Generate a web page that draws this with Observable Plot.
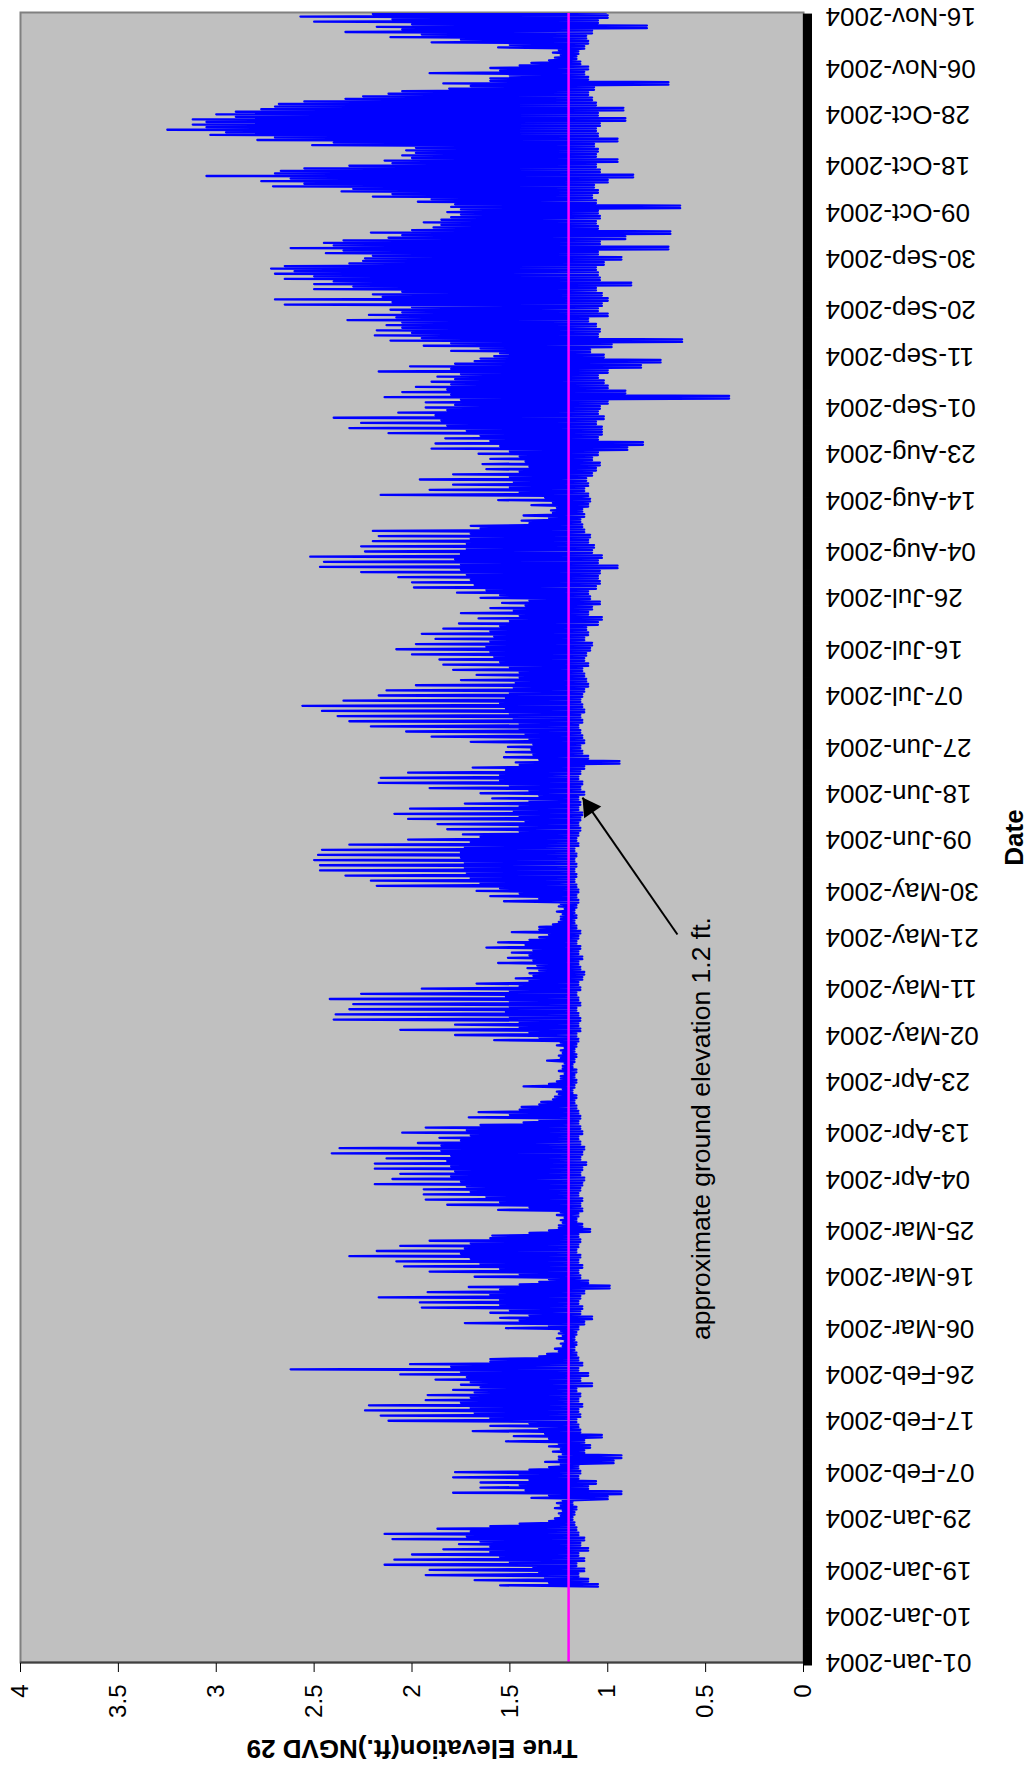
<!DOCTYPE html>
<html>
<head>
<meta charset="utf-8">
<script src="https://cdn.jsdelivr.net/npm/d3@7"></script>
<script src="https://cdn.jsdelivr.net/npm/@observablehq/plot@0.6"></script>
<style>
html, body { margin: 0; padding: 0; background: #fff; overflow: hidden; }
#wrap { position: absolute; left: 0; top: 0; width: 1774px; height: 1029px;
        transform-origin: 0 0; transform: translate(0, 1774px) rotate(-90deg); }
</style>
</head>
<body>
<div id="wrap"></div>
<script>
// ---- data (one entry per day, starting 16-Jan-2004) ----
const firstDay = "2004-01-16";
// daily higher high (spike tips)
const peaks = [
  1.55,1.68,1.93,1.91,2.14,2.09,2.00,1.84,1.76,2.10,
  2.14,1.87,1.45,1.27,1.25,1.27,1.26,1.39,1.79,1.65,
  1.65,1.79,1.78,1.30,1.32,1.25,1.28,1.30,1.52,1.48,
  1.69,1.60,2.12,2.16,2.24,2.22,1.93,1.92,1.79,1.75,
  1.88,2.06,2.62,2.01,1.60,1.31,1.27,1.24,1.26,1.25,
  1.52,1.73,1.55,1.60,1.95,1.96,2.17,1.92,1.71,1.35,
  1.68,1.91,2.04,2.08,2.32,2.18,2.06,1.91,1.59,1.30,
  1.25,1.24,1.26,1.56,1.82,1.93,1.94,1.94,2.19,2.10,
  2.06,2.19,2.19,2.13,2.41,2.37,1.97,1.86,2.05,1.93,
  1.43,1.71,1.66,1.44,1.34,1.27,1.26,1.43,1.26,1.24,
  1.25,1.23,1.31,1.25,1.24,1.26,1.58,1.78,2.06,1.78,
  2.40,2.39,2.32,2.30,2.42,2.26,1.95,1.67,1.47,1.40,
  1.41,1.56,1.51,1.49,1.62,1.56,1.35,1.49,1.35,1.25,
  1.24,1.26,1.25,1.53,1.60,1.67,2.18,2.21,2.34,2.47,
  2.47,2.50,2.48,2.46,2.32,2.02,1.74,1.82,1.87,2.02,
  2.09,2.01,1.73,1.59,1.65,1.91,2.17,2.16,2.02,1.69,
  1.47,1.53,1.52,1.51,1.70,1.90,2.03,2.21,2.32,2.38,
  2.46,2.56,2.35,2.17,2.13,1.98,1.75,1.67,1.79,1.84,
  1.86,2.00,2.08,1.98,1.88,1.95,1.84,1.76,1.66,1.75,
  1.60,1.54,1.65,1.77,1.99,2.00,2.07,2.26,2.47,2.45,
  2.52,2.24,2.26,2.20,2.17,2.20,1.70,1.44,1.43,1.29,
  1.39,1.56,2.16,1.91,1.79,1.96,1.79,1.62,1.64,1.60,
  1.66,1.90,1.88,1.83,2.12,2.32,2.26,2.40,2.07,1.93,
  1.93,2.14,2.05,1.98,1.90,1.87,2.17,2.01,1.68,1.58,
  1.80,1.94,2.11,2.19,2.18,2.13,2.33,2.22,2.11,2.65,
  2.70,2.20,2.50,2.50,2.65,2.70,2.72,2.32,2.24,2.44,
  2.62,2.45,2.12,2.21,1.89,1.94,1.80,1.82,1.80,1.97,
  2.20,2.36,2.71,2.77,3.05,2.67,2.32,2.14,2.05,2.03,
  2.51,2.79,3.03,3.25,3.12,3.12,3.00,2.77,2.68,2.34,
  2.12,1.81,1.84,1.60,1.91,1.60,1.39,1.27,1.28,1.56,
  1.90,2.11,2.34,2.18,2.50,2.57,2.33
];
// daily lower high (edge of the solid band)
const secondHighs = [
  1.30,1.32,1.35,1.38,1.50,1.55,1.60,1.60,1.65,1.72,
  1.70,1.60,1.30,1.24,1.23,1.24,1.23,1.30,1.42,1.45,
  1.40,1.45,1.40,1.24,1.25,1.23,1.24,1.25,1.30,1.32,
  1.35,1.40,1.60,1.68,1.70,1.75,1.70,1.68,1.65,1.70,
  1.72,1.75,1.80,1.60,1.35,1.25,1.23,1.22,1.23,1.24,
  1.30,1.45,1.40,1.50,1.55,1.55,1.60,1.55,1.45,1.30,
  1.45,1.55,1.65,1.70,1.75,1.73,1.70,1.60,1.40,1.25,
  1.23,1.22,1.24,1.40,1.55,1.62,1.70,1.72,1.75,1.80,
  1.78,1.80,1.82,1.80,1.85,1.85,1.75,1.70,1.72,1.65,
  1.35,1.50,1.45,1.35,1.28,1.25,1.23,1.30,1.24,1.22,
  1.23,1.22,1.24,1.23,1.22,1.24,1.35,1.40,1.45,1.45,
  1.50,1.52,1.50,1.50,1.52,1.50,1.45,1.40,1.38,1.35,
  1.36,1.38,1.40,1.38,1.42,1.40,1.30,1.35,1.28,1.24,
  1.23,1.22,1.24,1.35,1.45,1.55,1.65,1.70,1.72,1.73,
  1.73,1.75,1.75,1.73,1.70,1.65,1.45,1.45,1.42,1.45,
  1.48,1.45,1.40,1.35,1.40,1.50,1.55,1.55,1.52,1.45,
  1.35,1.38,1.39,1.38,1.40,1.42,1.45,1.45,1.48,1.50,
  1.52,1.55,1.52,1.50,1.48,1.47,1.45,1.45,1.50,1.55,
  1.58,1.60,1.62,1.60,1.58,1.60,1.55,1.50,1.45,1.48,
  1.42,1.40,1.55,1.62,1.68,1.70,1.72,1.75,1.75,1.78,
  1.75,1.72,1.72,1.70,1.70,1.65,1.40,1.30,1.28,1.26,
  1.28,1.32,1.45,1.50,1.48,1.50,1.45,1.40,1.42,1.45,
  1.50,1.55,1.60,1.65,1.72,1.82,1.85,1.88,1.82,1.78,
  1.75,1.80,1.82,1.80,1.78,1.75,1.80,1.78,1.65,1.55,
  1.65,1.80,1.95,2.00,2.05,2.05,2.08,2.05,2.00,2.10,
  2.15,2.05,2.30,2.40,2.50,2.60,2.65,2.25,2.20,2.35,
  2.40,2.35,2.05,2.00,1.85,1.85,1.75,1.75,1.78,1.90,
  2.10,2.30,2.55,2.62,2.70,2.55,2.10,2.00,1.98,1.98,
  2.40,2.70,2.95,3.05,3.05,2.90,2.90,2.70,2.55,2.25,
  2.05,1.70,1.60,1.50,1.55,1.45,1.30,1.24,1.25,1.50,
  1.75,1.95,2.05,2.00,2.10,2.20,2.10
];
// daily low
const lows = [
  1.05,1.10,1.15,1.12,1.16,1.12,1.15,1.10,1.14,1.12,
  1.15,1.16,1.17,1.18,1.17,1.16,1.18,1.00,0.93,1.10,
  1.06,1.15,1.14,1.15,0.97,0.93,1.12,1.09,1.12,1.03,
  1.14,1.15,1.16,1.14,1.15,1.13,1.15,1.14,1.16,1.08,
  1.14,1.10,1.15,1.13,1.15,1.16,1.17,1.16,1.17,1.16,
  1.15,1.12,1.08,1.14,1.13,1.15,1.14,1.12,0.99,1.10,
  1.14,1.15,1.13,1.15,1.14,1.16,1.15,1.14,1.15,1.09,
  1.13,1.16,1.15,1.13,1.14,1.13,1.15,1.14,1.13,1.12,
  1.14,1.13,1.11,1.14,1.13,1.12,1.14,1.15,1.13,1.14,
  1.15,1.14,1.15,1.16,1.17,1.16,1.18,1.17,1.16,1.17,
  1.16,1.18,1.17,1.16,1.17,1.16,1.15,1.16,1.14,1.15,
  1.14,1.15,1.16,1.14,1.15,1.16,1.14,1.15,1.13,1.12,
  1.14,1.15,1.13,1.15,1.14,1.16,1.15,1.14,1.16,1.17,
  1.16,1.17,1.16,1.15,1.16,1.15,1.16,1.17,1.16,1.17,
  1.16,1.17,1.16,1.17,1.15,1.16,1.15,1.14,1.15,1.14,
  1.13,1.15,1.14,1.15,1.12,1.14,1.13,1.15,1.14,1.12,
  0.94,1.10,1.13,1.14,1.12,1.13,1.14,1.15,1.13,1.14,
  1.12,1.13,1.14,1.13,1.12,1.10,1.11,1.12,1.13,1.10,
  1.12,1.11,1.09,1.08,1.12,1.10,1.11,1.05,1.03,1.10,
  1.08,1.04,1.09,1.10,1.06,1.04,1.05,1.04,0.95,1.05,
  1.03,1.08,1.07,1.10,1.09,1.12,1.13,1.14,1.12,1.13,
  1.10,1.09,1.10,1.12,1.10,1.11,1.08,1.06,1.04,1.08,
  1.05,0.90,0.82,1.05,1.03,1.03,1.06,1.02,1.05,1.04,
  1.00,0.38,0.91,1.00,1.02,1.05,1.00,0.83,0.73,1.02,
  1.09,0.98,0.62,1.05,1.04,1.06,1.10,1.00,1.05,1.03,
  1.00,1.03,1.06,0.88,1.04,1.05,1.06,1.02,0.93,1.05,
  0.69,1.04,0.91,0.68,1.05,1.06,1.04,1.05,0.63,1.06,
  1.08,1.05,1.07,1.00,0.87,1.04,1.06,0.95,1.06,1.05,
  1.07,0.95,1.05,1.06,1.04,0.91,1.05,0.92,1.06,1.08,
  1.10,1.07,0.69,1.10,1.12,1.10,1.14,1.16,1.15,1.12,
  1.10,1.11,1.08,0.80,1.05,1.00,1.01
];
const groundElevation = 1.2;
const dateTickLabels = [
  "01-Jan-2004","10-Jan-2004","19-Jan-2004","29-Jan-2004","07-Feb-2004","17-Feb-2004",
  "26-Feb-2004","06-Mar-2004","16-Mar-2004","25-Mar-2004","04-Apr-2004","13-Apr-2004",
  "23-Apr-2004","02-May-2004","11-May-2004","21-May-2004","30-May-2004","09-Jun-2004",
  "18-Jun-2004","27-Jun-2004","07-Jul-2004","16-Jul-2004","26-Jul-2004","04-Aug-2004",
  "14-Aug-2004","23-Aug-2004","01-Sep-2004","11-Sep-2004","20-Sep-2004","30-Sep-2004",
  "09-Oct-2004","18-Oct-2004","28-Oct-2004","06-Nov-2004","16-Nov-2004"
];
const valueTicks = [0, 0.5, 1, 1.5, 2, 2.5, 3, 3.5, 4];
const xDomain = ["2004-01-01T00:00Z", "2004-11-16T19:00Z"];
const annotation = {label: "approximate ground elevation 1.2 ft.", date: "2004-04-13T19:30Z", value: 0.48};
const arrowTail = {date: "2004-05-21T12:45Z", value: 0.644};
const arrowTip = {date: "2004-06-17T03:50Z", value: 1.129};

// ---- build the table ----
const DAY = 864e5;
const t0 = Date.parse(firstDay + "T00:00Z");
const series = peaks.flatMap((p, i) => {
  const t = t0 + i * DAY;
  return [
    {date: new Date(t - DAY / 4), value: lows[i]},
    {date: new Date(t), value: p},
    {date: new Date(t + DAY / 4), value: lows[i]},
    {date: new Date(t + DAY / 2), value: secondHighs[i]}
  ];
});
const parse = d3.utcParse("%d-%b-%Y");
const fmt = d3.utcFormat("%d-%b-%Y");
const tickDates = dateTickLabels.map(parse);
const x0 = new Date(xDomain[0]), x1 = new Date(xDomain[1]);
const font = "'Liberation Sans', Arial, Helvetica, sans-serif";

const chart = Plot.plot({
  width: 1774, height: 1029,
  marginLeft: 111, marginRight: 13, marginTop: 20, marginBottom: 226,
  style: {fontFamily: font, fontSize: "24px", background: "#fff", color: "#000"},
  x: {type: "utc", domain: [x0, x1]},
  y: {domain: [0, 4]},
  marks: [
    Plot.frame({fill: "#c0c0c0", stroke: "#808080", strokeWidth: 2}),
    Plot.line(series, {x: "date", y: "value", stroke: "#0000ff", strokeWidth: 2.3, clip: true}),
    Plot.ruleY([groundElevation], {stroke: "#ff00ff", strokeWidth: 2.5}),
    Plot.ruleX([x0], {stroke: "#404040", strokeWidth: 2}),
    Plot.axisY(valueTicks, {tickSize: 9, tickPadding: 13, tickFormat: d => String(d), stroke: "#000", label: null, fontSize: 24}),
    Plot.axisX(d3.utcDay.range(x0, x1), {tickSize: 9, tickFormat: () => "", strokeWidth: 6, stroke: "#000", label: null}),
    Plot.axisX(tickDates, {tickSize: 0, tickPadding: 22, tickRotate: -90, tickFormat: fmt, label: null, fontSize: 26}),
    Plot.link([{tail: arrowTail, tip: arrowTip}], {
      x1: d => new Date(d.tail.date), y1: d => d.tail.value,
      x2: d => new Date(d.tip.date), y2: d => d.tip.value,
      stroke: "#000", strokeWidth: 2
    }),
    Plot.dot([arrowTip], {x: d => new Date(d.date), y: "value", symbol: "triangle", r: 7.7,
      fill: "#000", stroke: "none", rotate: 55.3, dx: -9.9, dy: 6.8}),
    Plot.text([annotation], {x: d => new Date(d.date), y: "value", text: "label",
      textAnchor: "middle", lineAnchor: "bottom", fontSize: 26.5, fill: "#000"}),
    Plot.text(["Date"], {text: d => d, frameAnchor: "bottom", dy: 219, lineAnchor: "bottom",
      textAnchor: "middle", fontWeight: "bold", fontSize: 26, fill: "#000"}),
    Plot.text(["True Elevation(ft.)NGVD 29"], {text: d => d, frameAnchor: "left", dx: -77, rotate: -90,
      textAnchor: "middle", lineAnchor: "bottom", fontWeight: "bold", fontSize: 26, fill: "#000"})
  ]
});
document.getElementById("wrap").appendChild(chart);
</script>
</body>
</html>
